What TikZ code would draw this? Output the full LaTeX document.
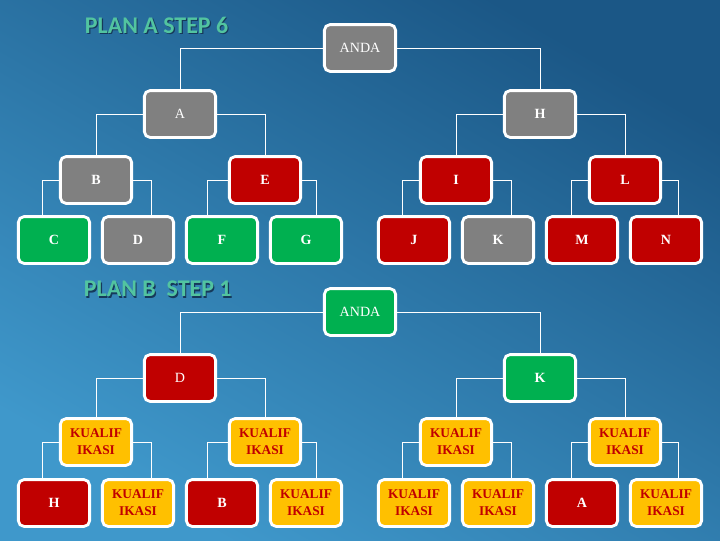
\documentclass[tikz,border=0pt]{standalone}
\usepackage{fontspec}
\setmainfont{Liberation Serif}
\newfontfamily\titlefont{Carlito}
\usetikzlibrary{calc}
\usepackage{xcolor}
\definecolor{boxgrey}{HTML}{808080}
\definecolor{boxred}{HTML}{C00000}
\definecolor{boxgreen}{HTML}{00B050}
\definecolor{boxgold}{HTML}{FFC000}
\definecolor{bgdark}{HTML}{1B5786}
\definecolor{bglight}{HTML}{3F98CB}
\definecolor{titlegreen}{HTML}{52C4A0}
\definecolor{titleshadow}{HTML}{16395A}
\tikzset{
  box/.style={draw=white,line width=2pt,rounded corners=4pt,minimum width=1.78cm,
              minimum height=1.17cm,inner sep=1pt,align=center,text=white,
              font=\fontsize{10}{12}\selectfont},
  greybox/.style={box,fill=boxgrey},
  redbox/.style={box,fill=boxred},
  greenbox/.style={box,fill=boxgreen},
  goldbox/.style={box,fill=boxgold,text=boxred,font=\fontsize{9.5}{12}\selectfont\bfseries},
  link/.style={draw=white,line width=0.7pt},
  heavy/.style={font=\fontsize{10}{12}\selectfont\bfseries},
}
\newcommand{\planbranch}[5]{%
  \draw[link] (#1.west) -| ($(#2.north)+(#4,0)$);
  \draw[link] (#1.east) -| ($(#3.north)+(#5,0)$);
}
\newcommand{\plantitle}[4]{%
  \node[anchor=west,text=titleshadow,font=\titlefont\fontsize{17}{20}\selectfont\bfseries]
        (#4shadow) at (#1+1.2,#2+1.5) {#3};
  \node[anchor=west,text=titlegreen,font=\titlefont\fontsize{17}{20}\selectfont\bfseries]
        (#4) at (#1,#2) {#3};
}

\begin{document}
\begin{tikzpicture}[x=0.025cm,y=-0.025cm]
  \shade[top color=bgdark,bottom color=bglight,shading angle=-30] (0,0) rectangle (720,540);
  \useasboundingbox (0,0) rectangle (720,540);

  % plan a
  \plantitle{80}{25}{PLAN A STEP 6}{tatitle}
  \node[greybox] (aanda) at (360,48) {ANDA};
  \node[greybox] (aa) at (180,114) {A};
  \node[greybox,heavy] (ah) at (540,114) {H};
  \node[greybox,heavy] (ab) at (96,180) {B};
  \node[redbox,heavy] (ae) at (265,180) {E};
  \node[redbox,heavy] (ai) at (456,180) {I};
  \node[redbox,heavy] (al) at (625,180) {L};
  \node[greenbox,heavy] (ac) at (54,240) {C};
  \node[greybox,heavy] (ad) at (138,240) {D};
  \node[greenbox,heavy] (af) at (222,240) {F};
  \node[greenbox,heavy] (ag) at (306,240) {G};
  \node[redbox,heavy] (aj) at (414,240) {J};
  \node[greybox,heavy] (ak) at (498,240) {K};
  \node[redbox,heavy] (am) at (582,240) {M};
  \node[redbox,heavy] (an) at (666,240) {N};
  \planbranch{aanda}{aa}{ah}{0}{0}
  \planbranch{aa}{ab}{ae}{0}{0}
  \planbranch{ah}{ai}{al}{0}{0}
  \planbranch{ab}{ac}{ad}{-12}{13}
  \planbranch{ae}{af}{ag}{-15}{10}
  \planbranch{ai}{aj}{ak}{-12}{13}
  \planbranch{al}{am}{an}{-11}{12}

  % plan b
  \plantitle{79}{289}{PLAN B\ \ STEP 1}{tbtitle}
  \node[greenbox] (banda) at (360,312) {ANDA};
  \node[redbox] (bd) at (180,378) {D};
  \node[greenbox,heavy] (bk) at (540,378) {K};
  \node[goldbox] (bq1) at (96,442) {KUALIF\\IKASI};
  \node[goldbox] (bq2) at (265,442) {KUALIF\\IKASI};
  \node[goldbox] (bq3) at (456,442) {KUALIF\\IKASI};
  \node[goldbox] (bq4) at (625,442) {KUALIF\\IKASI};
  \node[redbox,heavy] (bh) at (54,503) {H};
  \node[goldbox] (bq5) at (138,503) {KUALIF\\IKASI};
  \node[redbox,heavy] (bb) at (222,503) {B};
  \node[goldbox] (bq6) at (306,503) {KUALIF\\IKASI};
  \node[goldbox] (bq7) at (414,503) {KUALIF\\IKASI};
  \node[goldbox] (bq8) at (498,503) {KUALIF\\IKASI};
  \node[redbox,heavy] (ba) at (582,503) {A};
  \node[goldbox] (bq9) at (666,503) {KUALIF\\IKASI};
  \planbranch{banda}{bd}{bk}{0}{0}
  \planbranch{bd}{bq1}{bq2}{0}{0}
  \planbranch{bk}{bq3}{bq4}{0}{0}
  \planbranch{bq1}{bh}{bq5}{-12}{13}
  \planbranch{bq2}{bb}{bq6}{-15}{10}
  \planbranch{bq3}{bq7}{bq8}{-12}{13}
  \planbranch{bq4}{ba}{bq9}{-11}{12}
\end{tikzpicture}
\end{document}
